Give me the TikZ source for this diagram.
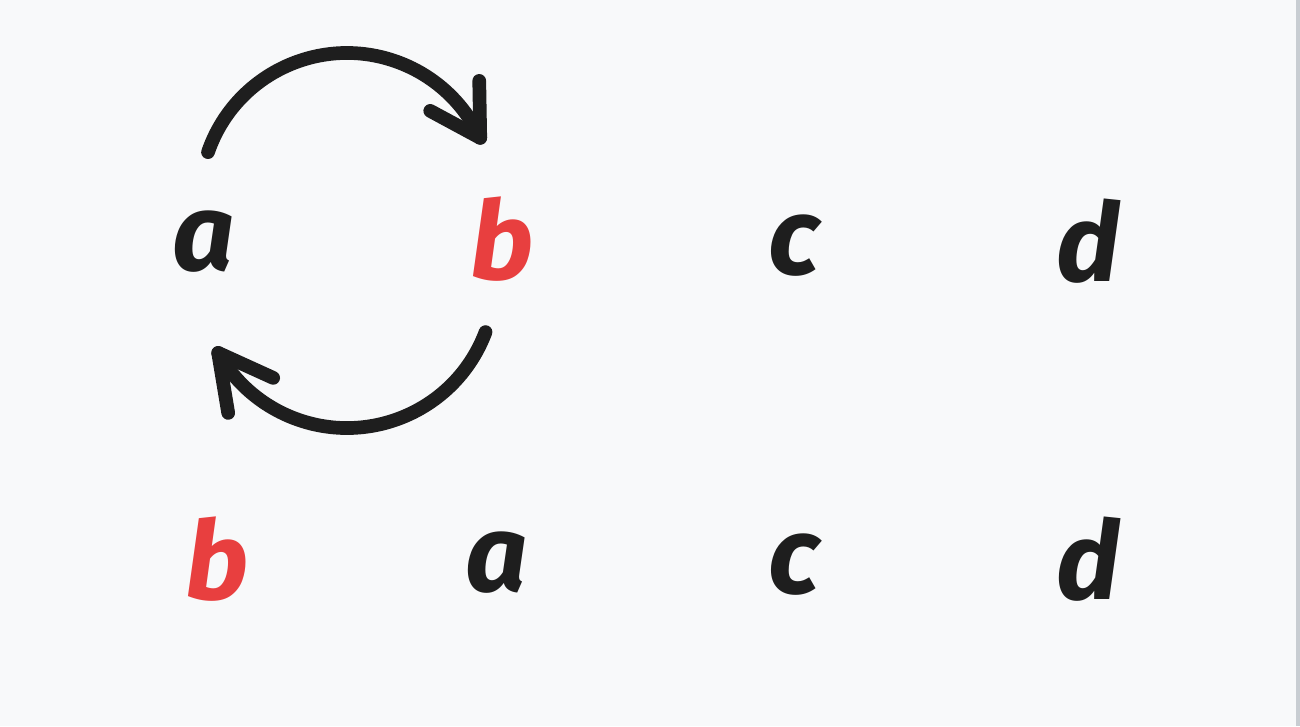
\documentclass[tikz,border=0pt]{standalone}
\usepackage{fontspec}
\setmainfont{Fira Sans}
\definecolor{bg}{HTML}{F8F9FA}
\definecolor{ink}{HTML}{1E1E1E}
\definecolor{hl}{HTML}{E83F3F}
\definecolor{edge}{HTML}{C8CDD2}
\tikzset{
  letter/.style={font=\fontsize{31}{36}\selectfont\bfseries\itshape, text=ink, anchor=base, inner sep=0pt},
  red letter/.style={letter, text=hl},
  swaparrow/.style={draw=ink, line width=3.9pt, line cap=round, line join=round},
}
\begin{document}
\begin{tikzpicture}
\fill[bg] (0,0) rectangle (13,7.26);
\fill[edge] (12.96,0) rectangle (13,7.26);
\useasboundingbox (0,0) rectangle (13,7.26);
% row 1
\node[letter] (a1) at (2.04,4.56) {a};
\node[red letter] (b1) at (5.02,4.47) {b};
\node[letter] (c1) at (7.94,4.52) {c};
\node[letter] (d1) at (10.88,4.45) {d};
% row 2
\node[red letter] (b2) at (2.17,1.27) {b};
\node[letter] (a2) at (4.97,1.35) {a};
\node[letter] (c2) at (7.94,1.33) {c};
\node[letter] (d2) at (10.88,1.27) {d};
% arc centres and arrow tips
\coordinate (up) at (3.47,5.26);
\coordinate (lo) at (3.47,4.46);
\coordinate (t1) at ([shift={(25:1.47)}]up);
\coordinate (t2) at ([shift={(-150.5:1.48)}]lo);
% upper arrow a -> b
\draw[swaparrow] ([shift={(161:1.47)}]up) arc[start angle=161, end angle=25, radius=1.47];
\draw[swaparrow] ([shift={(-0.01,0.57)}]t1) -- (t1) -- ([shift={(-0.50,0.27)}]t1);
% lower arrow b -> a
\draw[swaparrow] ([shift={(-20.6:1.48)}]lo) arc[start angle=-20.6, end angle=-150.5, radius=1.48];
\draw[swaparrow] ([shift={(0.10,-0.60)}]t2) -- (t2) -- ([shift={(0.55,-0.25)}]t2);
\end{tikzpicture}
\end{document}
